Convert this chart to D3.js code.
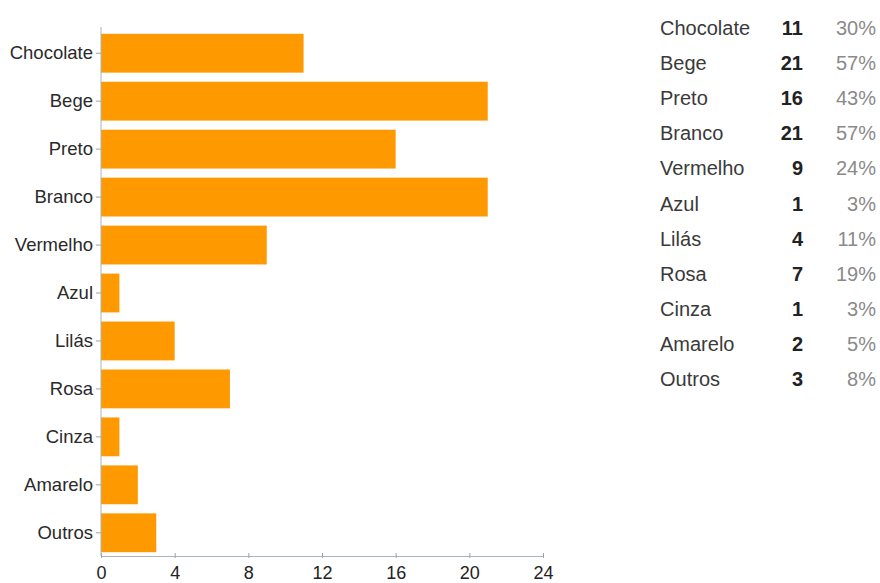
<!DOCTYPE html>
<html>
<head>
<meta charset="utf-8">
<script src="https://cdn.jsdelivr.net/npm/d3@7"></script>
<style>
  body { margin: 0; background: #fff; }
  svg { display: block; }
  svg text { font-family: "Liberation Sans", Arial, sans-serif; }
</style>
</head>
<body>
<div id="chart"></div>
<script>
// chart values
const categories = ["Chocolate", "Bege", "Preto", "Branco", "Vermelho", "Azul", "Lilás", "Rosa", "Cinza", "Amarelo", "Outros"];
const counts = [11, 21, 16, 21, 9, 1, 4, 7, 1, 2, 3];
const percents = ["30%", "57%", "43%", "57%", "24%", "3%", "11%", "19%", "3%", "5%", "8%"];
const xTicks = [0, 4, 8, 12, 16, 20, 24];

const width = 880, height = 583;

let svg = d3.select("#chart")
            .append("svg")
            .attr("width", width)
            .attr("height", height);

let x = d3.scaleLinear().domain([0, 24]).range([101, 543]);
let y = d3.scaleBand().domain(categories).range([29, 557])
          .paddingInner(0.19).paddingOuter(0.1);

// bars
svg.append("g")
   .selectAll("rect")
   .data(categories)
   .enter()
   .append("rect")
   .attr("x", x(0))
   .attr("y", d => y(d))
   .attr("width", (d, i) => x(counts[i]) - x(0))
   .attr("height", y.bandwidth())
   .attr("fill", "#ff9900");

// x axis
let xAxis = svg.append("g")
   .attr("transform", "translate(0,556)")
   .call(d3.axisBottom(x).tickValues(xTicks).tickSize(3).tickSizeOuter(0));
xAxis.select(".domain").attr("stroke", "#aab4bb");
xAxis.selectAll(".tick line").attr("stroke", "#99a6ad").attr("y1", -3).attr("y2", 2);
xAxis.selectAll("text").attr("font-size", 18).attr("fill", "#222").attr("dy", "0.95em");

// y axis
let yAxis = svg.append("g")
   .attr("transform", "translate(101,0)")
   .call(d3.axisLeft(y).tickSize(5).tickSizeOuter(0).tickPadding(3));
yAxis.select(".domain").attr("stroke", "#aab4bb").attr("d", "M0,27V556");
yAxis.selectAll(".tick line").attr("stroke", "#99a6ad");
yAxis.selectAll("text").attr("font-size", 18.5).attr("fill", "#2a2a2a");
svg.selectAll("g").attr("font-family", null);

// table on the right
let rowY = d3.scaleLinear().domain([0, 10]).range([28, 379]);
let rows = svg.append("g")
   .selectAll("g")
   .data(categories)
   .enter()
   .append("g")
   .attr("transform", (d, i) => "translate(0," + rowY(i) + ")");

rows.append("text")
    .attr("x", 660)
    .attr("dy", "0.35em")
    .attr("font-size", 20)
    .attr("fill", "#3a3a3a")
    .text(d => d);

rows.append("text")
    .attr("x", 803)
    .attr("dy", "0.35em")
    .attr("text-anchor", "end")
    .attr("font-size", 20)
    .attr("font-weight", "bold")
    .attr("fill", "#222")
    .text((d, i) => counts[i]);

rows.append("text")
    .attr("x", 876)
    .attr("dy", "0.35em")
    .attr("text-anchor", "end")
    .attr("font-size", 20)
    .attr("fill", "#8a8a8a")
    .text((d, i) => percents[i]);
</script>
</body>
</html>
